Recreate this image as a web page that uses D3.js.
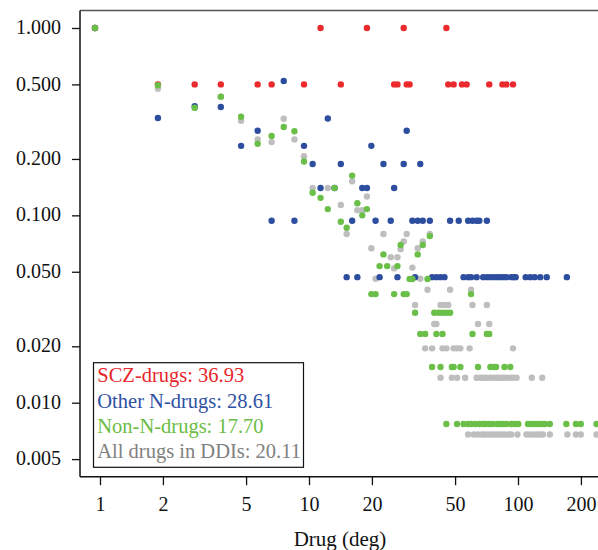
<!DOCTYPE html>
<html><head><meta charset="utf-8">
<script src="https://cdn.jsdelivr.net/npm/d3@7"></script>
<style>body{margin:0;background:#fff;overflow:hidden}</style>
</head><body><svg id="c" width="598" height="550"></svg>
<script>
// ---- data: [degree, probability] ----
const sczDrugs = [[1,1],[2,0.5],[3,0.5],[4,0.5],[6,0.5],[7,0.5],[10,0.5],[12,1],[15,0.5],[20,1],[27,0.5],[28,0.5],[30,1],[31,0.5],[32,0.5],[48,1],[49,0.5],[52,0.5],[57,0.5],[60,0.5],[77,0.5],[89,0.5],[93,0.5],[100,0.5]];

const otherNDrugs = [[1,1],[2,0.331],[3,0.383],[4,0.379],[5,0.235],[6,0.283],[7,0.0936],[8,0.521],[9,0.0936],[10,0.235],[11,0.188],[12,0.14],[13,0.329],[14,0.14],[15,0.188],[16,0.0468],[17,0.0936],[18,0.0468],[19,0.14],[20,0.14],[21,0.235],[22,0.0936],[23,0.0468],[24,0.188],[26,0.0936],[27,0.14],[28,0.0468],[30,0.188],[31,0.283],[33,0.0936],[34,0.0468],[35,0.0936],[36,0.188],[37,0.0936],[40,0.0936],[41,0.0468],[43,0.0468],[45,0.0468],[47,0.0468],[50,0.0936],[55,0.0936],[58,0.0468],[61,0.0936],[61,0.0468],[63,0.0468],[64,0.0936],[67,0.0936],[67,0.0468],[69,0.0936],[72,0.0468],[75,0.0936],[75,0.0468],[78,0.0468],[81,0.0468],[84,0.0468],[87,0.0468],[90,0.0468],[93,0.0468],[98,0.0468],[101,0.0468],[103,0.0468],[115,0.0468],[121,0.0468],[127,0.0468],[135,0.0468],[145,0.0468],[181,0.0468]];

const nonNDrugs = [[1,1],[2,0.495],[3,0.375],[4,0.43],[5,0.336],[6,0.241],[7,0.265],[8,0.296],[9,0.281],[10,0.194],[11,0.132],[12,0.124],[13,0.108],[14,0.14],[15,0.0924],[16,0.0859],[17,0.163],[18,0.116],[19,0.1],[20,0.108],[21,0.038],[22,0.038],[23,0.0536],[24,0.0619],[25,0.0536],[27,0.038],[28,0.0536],[29,0.0694],[30,0.038],[31,0.038],[32,0.0457],[33,0.0457],[34,0.0302],[35,0.0619],[36,0.0233],[37,0.0694],[38,0.0233],[39,0.0457],[40,0.0775],[41,0.0155],[42,0.0302],[43,0.0233],[44,0.0302],[45,0.0155],[46,0.0302],[46,0.0233],[48,0.0302],[50,0.0302],[51,0.0155],[52,0.0155],[56,0.0155],[63,0.038],[64,0.0233],[68,0.0155],[75,0.0233],[77,0.0233],[78,0.0155],[81,0.0155],[83,0.0155],[91,0.0155],[97,0.0155],
 [48,0.00769],[54,0.00769],[58,0.00769],[61,0.00769],[63,0.00769],[66,0.00769],[69,0.00769],[72,0.00769],[74,0.00769],[77,0.00769],[80,0.00769],[84,0.00769],[87,0.00769],[90,0.00769],[93,0.00769],[98,0.00769],[102,0.00769],[106,0.00769],[118,0.00769],[122,0.00769],[127,0.00769],[132,0.00769],[137,0.00769],[142,0.00769],[150,0.00769],[180,0.00769],[200,0.00769],[211,0.00769],[251,0.00769]];

const allDrugs = [[1,1],[2,0.474],[3,0.375],[4,0.43],[5,0.32],[6,0.254],[7,0.246],[8,0.328],[9,0.254],[10,0.207],[11,0.14],[13,0.14],[15,0.1135],[16,0.0795],[17,0.152],[18,0.1066],[19,0.1066],[20,0.126],[21,0.0667],[22,0.0459],[24,0.0795],[26,0.0597],[27,0.0521],[28,0.0597],[29,0.066],[30,0.0726],[31,0.0795],[33,0.0526],[34,0.0332],[35,0.0667],[36,0.0459],[37,0.0726],[38,0.0195],[39,0.0401],[40,0.0795],[41,0.0195],[42,0.0263],[43,0.0263],[45,0.0332],[45,0.0136],[46,0.0195],[47,0.0332],[48,0.0195],[49,0.0332],[50,0.0401],[51,0.0136],[52,0.0195],[54,0.0195],[54,0.0136],[56,0.0195],[59,0.0136],[62,0.0195],[63,0.0401],[64,0.0332],[67,0.0136],[68,0.0263],[70,0.0136],[72,0.0136],[75,0.0332],[75,0.0136],[77,0.0263],[78,0.0136],[81,0.0136],[84,0.0136],[87,0.0136],[90,0.0136],[93,0.0136],[97,0.0136],[100,0.0195],[100,0.0136],[104,0.0136],[123,0.0136],[138,0.0136],
 [61,0.00677],[65,0.00677],[68,0.00677],[71,0.00677],[73,0.00677],[76,0.00677],[79,0.00677],[82,0.00677],[85,0.00677],[88,0.00677],[91,0.00677],[95,0.00677],[98,0.00677],[105,0.00677],[116,0.00677],[120,0.00677],[125,0.00677],[130,0.00677],[134,0.00677],[139,0.00677],[150,0.00677],[182,0.00677],[200,0.00677],[211,0.00677],[251,0.00677]];

const xTicks = [1,2,5,10,20,50,100,200];
const yTicks = [0.005,0.01,0.02,0.05,0.1,0.2,0.5,1];
const legendLabels = ["SCZ-drugs: 36.93","Other N-drugs: 28.61","Non-N-drugs: 17.70","All drugs in DDIs: 20.11"];
const xTitle = "Drug (deg)";

// ---- styles ----
const dotColors = {scz:"#ea2a2c", other:"#2d4e9f", non:"#6abf48", all:"#bebebe"};
const textColors = ["#e8262b","#2f51a3","#6cbd45","#808080"];
const font = "'Liberation Serif','Times New Roman',serif";

const svg = d3.select("#c");
const x = d3.scaleLog().domain([1,100]).range([100,518]);
const y = d3.scaleLog().domain([1,0.01]).range([28,402.7]);
const frameTop = 10.5, frameBottom = 476.7, frameLeft = 80, frameRight = 640;

// points
const pts = svg.append("g").attr("transform","translate(-5,0)");
[[allDrugs,dotColors.all],[sczDrugs,dotColors.scz],[otherNDrugs,dotColors.other],[nonNDrugs,dotColors.non]].forEach(([data,col])=>{
  pts.append("g").selectAll("circle").data(data).join("circle")
    .attr("cx",d=>x(d[0])).attr("cy",d=>y(d[1])).attr("r",3.2).attr("fill",col);
});

// frame
svg.append("line").attr("x1",frameLeft).attr("x2",frameRight).attr("y1",frameTop).attr("y2",frameTop).attr("stroke","#555").attr("stroke-width",1.6);
svg.append("line").attr("x1",frameLeft).attr("x2",frameLeft).attr("y1",frameTop).attr("y2",frameBottom).attr("stroke","#111").attr("stroke-width",1.5);
svg.append("line").attr("x1",frameLeft).attr("x2",frameRight).attr("y1",frameBottom).attr("y2",frameBottom).attr("stroke","#111").attr("stroke-width",1.5);

// y axis
const ya = svg.append("g").attr("transform",`translate(${frameLeft},0)`)
  .call(d3.axisLeft(y).tickValues(yTicks).tickFormat(d3.format(".3f")).tickSize(8).tickPadding(11));
ya.select(".domain").remove();
ya.selectAll("line").attr("stroke","#111").attr("stroke-width",1.3);
ya.selectAll("text").attr("font-family",font).attr("font-size",20).attr("fill","#111").attr("dy","0.28em");

// x axis
const xa = svg.append("g").attr("transform",`translate(0,${frameBottom})`)
  .call(d3.axisBottom(x).tickValues(xTicks).tickFormat(d3.format("d")).tickSize(8.5).tickPadding(12));
xa.select(".domain").remove();
xa.selectAll("line").attr("stroke","#111").attr("stroke-width",1.3);
xa.selectAll("text").attr("font-family",font).attr("font-size",20).attr("fill","#111");

svg.append("text").attr("x",340).attr("y",546).attr("text-anchor","middle")
  .attr("font-family",font).attr("font-size",21).attr("fill","#111").text(xTitle);

// legend
const lg = svg.append("g");
lg.append("rect").attr("x",93.5).attr("y",362.7).attr("width",210).attr("height",104.6)
  .attr("fill","#fff").attr("stroke","#111").attr("stroke-width",1.2);
legendLabels.forEach((t,i)=>{
  lg.append("text").attr("x",97.3).attr("y",382.3+i*25.3)
    .attr("font-family",font).attr("font-size",20.5).attr("fill",textColors[i]).text(t);
});
</script></body></html>
